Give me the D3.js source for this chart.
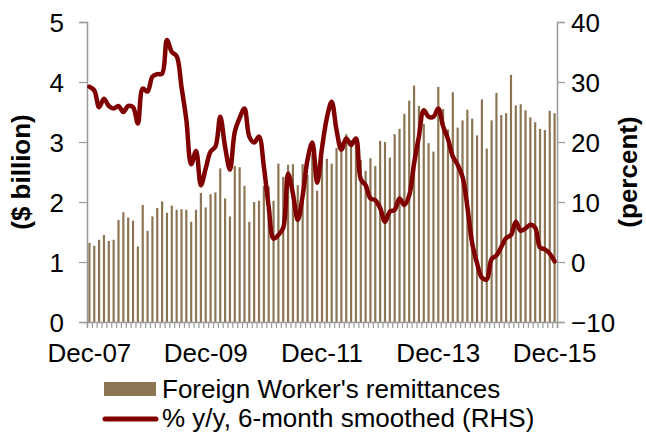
<!doctype html>
<html lang="en">

<head>
  <meta charset="utf-8">
  <title>Foreign Worker's remittances</title>
  <style>
    html, body { margin: 0; padding: 0; background: #fff; }
    svg text { font-family: "Liberation Sans", Arial, sans-serif; fill: #000; }
  </style>
</head>

<body>
  <div id="chart"></div>

  <script src="https://d3js.org/d3.v7.min.js"></script>
  <script>
    // Data (monthly, Dec-07 .. Dec-15) ---------------------------------------------------------------------------
    const remittances = [
      1.32, 1.27, 1.37, 1.45, 1.35, 1.37, 1.70, 1.83, 1.74, 1.69, 1.26, 1.95,
      1.52, 1.76, 1.90, 2.01, 1.82, 1.94, 1.87, 1.88, 1.87, 1.67, 1.87, 2.15,
      1.91, 2.13, 2.16, 2.56, 2.06, 1.76, 2.60, 2.58, 2.27, 1.67, 2.00, 2.02,
      2.27, 2.26, 2.02, 2.64, 2.42, 2.62, 2.63, 2.28, 2.63, 2.45, 2.80, 2.19,
      2.75, 2.72, 2.64, 2.90, 3.00, 3.13, 3.03, 3.00, 2.70, 2.52, 2.73, 2.60,
      3.02, 3.00, 2.74, 3.13, 3.22, 3.47, 3.69, 3.94, 3.60, 3.30, 2.98, 2.84,
      3.92, 3.55, 3.21, 3.83, 3.24, 3.36, 3.54, 3.39, 3.11, 3.71, 2.89, 3.36,
      3.82, 3.45, 3.48, 4.12, 3.61, 3.63, 3.53, 3.41, 3.33, 3.22, 3.20, 3.52,
      3.48
    ];

    const growth = [
      29.2, 28.6, 25.8, 27.2, 26.0, 25.6, 26.0, 25.0, 26.0, 25.8, 23.1, 28.9,
      28.4, 30.9, 31.3, 31.4, 37.0, 35.0, 34.3, 29.2, 23.7, 16.3, 18.5, 12.8,
      15.6, 18.4, 19.2, 24.2, 19.2, 15.4, 21.7, 24.0, 25.6, 20.9, 19.9, 20.9,
      15.9, 9.2, 3.9, 4.5, 5.7, 14.7, 11.4, 7.0, 11.0, 17.0, 19.9, 13.2,
      19.0, 24.0, 26.7, 22.0, 18.7, 20.6, 19.5, 20.6, 13.8, 12.8, 10.6, 10.3,
      9.0, 6.7, 8.4, 8.7, 10.6, 9.5, 11.1, 16.4, 20.9, 25.3, 24.2, 24.2,
      25.6, 22.6, 20.5, 17.6, 16.2, 14.2, 9.2, 3.1, -0.2, -2.6, -2.9, 0.5,
      1.1, 2.5, 4.0, 4.5, 6.7, 5.2, 5.6, 6.2, 5.7, 2.4, 2.1, 1.4,
      0.1
    ];

    const xLabelIndex = [0, 24, 48, 72, 96];
    const xLabels = ["Dec-07", "Dec-09", "Dec-11", "Dec-13", "Dec-15"];
    const leftTicks = [0, 1, 2, 3, 4, 5];
    const rightTicks = [-10, 0, 10, 20, 30, 40];
    const legendLabels = ["Foreign Worker's remittances", "% y/y, 6-month smoothed (RHS)"];

    // Canvas -----------------------------------------------------------------------------------------------------
    const width = 646;
    const height = 432;
    const plot = { left: 87, right: 557, top: 22, bottom: 322 };
    const barColor = "#8c7553";
    const lineColor = "#800000";
    const axisColor = "#9a9a9a";
    const fontSize = 26;

    const svg = d3.select("#chart")
      .append("svg")
      .attr("width", width)
      .attr("height", height)
      .attr("viewBox", [0, 0, width, height]);

    // Scales -----------------------------------------------------------------------------------------------------
    const x = d3.scaleBand()
      .domain(d3.range(remittances.length))
      .range([plot.left, plot.right])
      .paddingInner(0.55)
      .paddingOuter(0.275);

    const xEdge = d3.scaleLinear()
      .domain([0, remittances.length])
      .range([plot.left, plot.right]);

    const yLeft = d3.scaleLinear().domain([0, 5]).range([plot.bottom, plot.top]);
    const yRight = d3.scaleLinear().domain([-10, 40]).range([plot.bottom, plot.top]);

    // Bars -------------------------------------------------------------------------------------------------------
    svg.append("g")
      .selectAll("rect")
      .data(remittances)
      .join("rect")
      .attr("x", (d, i) => x(i))
      .attr("width", x.bandwidth())
      .attr("y", d => yLeft(d))
      .attr("height", d => yLeft(0) - yLeft(d))
      .attr("fill", barColor);

    // Axes -------------------------------------------------------------------------------------------------------
    const leftAxis = svg.append("g")
      .attr("transform", "translate(" + plot.left + ",0)")
      .call(d3.axisLeft(yLeft).tickValues(leftTicks).tickSize(8).tickPadding(15).tickFormat(d3.format("d")));

    const rightAxis = svg.append("g")
      .attr("transform", "translate(" + plot.right + ",0)")
      .call(d3.axisRight(yRight).tickValues(rightTicks).tickSize(8).tickPadding(6).tickFormat(d3.format("d")));

    const bottomAxis = svg.append("g")
      .attr("transform", "translate(0," + plot.bottom + ")")
      .call(d3.axisBottom(xEdge).tickValues(d3.range(remittances.length + 1)).tickSize(6).tickFormat(""));

    [leftAxis, rightAxis, bottomAxis].forEach(a => {
      a.select(".domain").attr("stroke", axisColor).attr("stroke-width", 1.5);
      a.selectAll(".tick line").attr("stroke", axisColor).attr("stroke-width", 1.2);
      a.selectAll("text").style("font-size", fontSize + "px").attr("fill", "#000");
    });
    leftAxis.selectAll("text").attr("dy", "0.36em");
    rightAxis.selectAll("text").attr("dy", "0.36em");

    svg.append("g")
      .selectAll("text")
      .data(xLabelIndex)
      .join("text")
      .attr("x", d => x(d) + x.bandwidth() / 2)
      .attr("y", 362)
      .attr("text-anchor", "middle")
      .style("font-size", fontSize + "px")
      .text((d, i) => xLabels[i]);

    // Line -------------------------------------------------------------------------------------------------------
    const line = d3.line()
      .x((d, i) => x(i) + x.bandwidth() / 2)
      .y(d => yRight(d))
      .curve(d3.curveCatmullRom.alpha(0.5));

    svg.append("path")
      .datum(growth)
      .attr("d", line)
      .attr("fill", "none")
      .attr("stroke", lineColor)
      .attr("stroke-width", 4.5)
      .attr("stroke-linejoin", "round")
      .attr("stroke-linecap", "round");

    // Axis titles ------------------------------------------------------------------------------------------------
    svg.append("text")
      .attr("transform", "translate(30," + (plot.top + plot.bottom) / 2 + ") rotate(-90)")
      .attr("text-anchor", "middle")
      .style("font-size", fontSize + "px")
      .style("font-weight", "bold")
      .text("($ billion)");

    svg.append("text")
      .attr("transform", "translate(637," + (plot.top + plot.bottom) / 2 + ") rotate(-90)")
      .attr("text-anchor", "middle")
      .style("font-size", fontSize + "px")
      .style("font-weight", "bold")
      .text("(percent)");

    // Legend -----------------------------------------------------------------------------------------------------
    const legend = svg.append("g");
    legend.append("rect")
      .attr("x", 104).attr("y", 382).attr("width", 52).attr("height", 14)
      .attr("fill", barColor);
    legend.append("line")
      .attr("x1", 105).attr("x2", 156).attr("y1", 419).attr("y2", 419)
      .attr("stroke", lineColor).attr("stroke-width", 5).attr("stroke-linecap", "round");
    legend.selectAll("text")
      .data(legendLabels)
      .join("text")
      .attr("x", 162)
      .attr("y", (d, i) => 398 + i * 29)
      .style("font-size", fontSize + "px")
      .text(d => d);
  </script>
</body>

</html>
